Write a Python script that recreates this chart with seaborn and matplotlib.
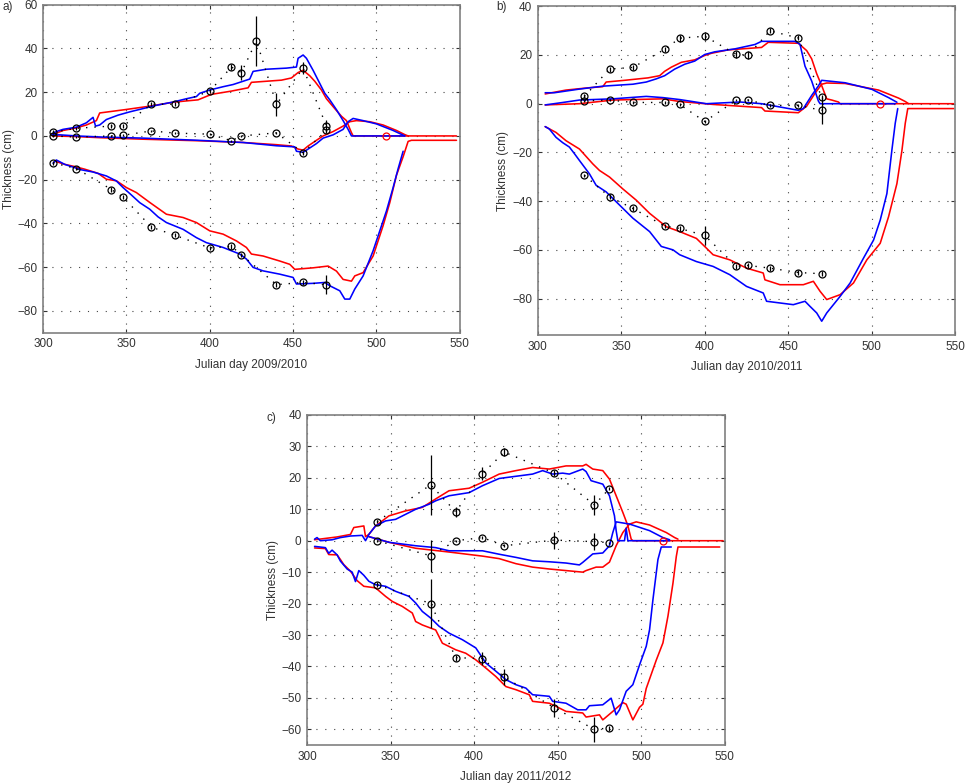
import numpy as np
import pandas as pd
import matplotlib
matplotlib.use("Agg")
import matplotlib.pyplot as plt
import seaborn as sns

# ---------- panel a) 2009/2010 : model curves (day, cm) ----------
a_blue_top = [(305.5, 1), (308, 2), (312, 3), (320, 4), (326, 6), (330, 8.5), (331.5, 4.5), (334, 5),
              (338, 7.5), (345, 9.5), (352, 11), (360, 12.5), (368, 14), (378, 15.5), (386, 17),
              (392, 18), (394, 19.5), (400, 21), (408, 22.5), (414, 23.5), (420, 25), (424, 26),
              (426, 29.5), (434, 30.5), (446, 31), (452, 31.5), (453, 35.5), (456, 37), (458, 35.5),
              (462, 30), (466, 24), (469, 19.5), (472, 16.5), (476, 12), (480, 7), (483, 3),
              (485, 0), (517, 0)]
a_red_top = [(305.5, 0.5), (312, 2.5), (319, 3.5), (326, 5), (332, 7), (334, 10.5), (349, 12),
             (363, 13.5), (379, 15.5), (393, 16.5), (401, 19), (413, 20.5), (423, 22), (425, 24.5),
             (443, 25.5), (449, 26.5), (453, 29), (456, 30), (460, 27.5), (463, 25), (467, 21),
             (470, 17), (475, 12.5), (479, 9), (482, 7), (485, 1.5), (486, 0), (548, 0)]
a_blue_mid = [(305.5, 0.5), (310, 0.5), (320, 0), (335, -0.5), (360, -1), (393, -2), (420, -3),
              (440, -4.5), (451, -5), (452, -7), (456, -7.5), (460, -5.5), (464, -3.5), (468, -1),
              (474, 0.5), (480, 3), (483, 6.5), (486, 8), (492, 7), (500, 5.5), (510, 2.5), (517, 0)]
a_red_mid = [(305.5, 0), (320, -0.3), (334, -0.8), (360, -1.5), (393, -2.2), (420, -3), (440, -4),
             (449, -4.6), (453, -6), (456, -6.5), (459, -4.6), (464, -2), (468, 0), (474, 2),
             (480, 4.5), (484, 6.5), (488, 7), (496, 6.5), (504, 5), (512, 2.5), (517, 0.6), (519, 0)]
a_blue_bot = [(306, -12.5), (308, -11), (313, -13), (319, -14.5), (323, -15.5), (330, -16.5),
              (338, -18.3), (344, -20.6), (348, -23.6), (353, -27), (358, -30.5), (364, -33.5),
              (369, -37), (374, -39.6), (384, -42.7), (392, -46.5), (398, -48.8), (408, -51),
              (418, -54), (422, -56.3), (426, -60.1), (432, -61.7), (442, -63.2), (450, -64.7),
              (452, -67.7), (462, -67.4), (469, -67), (472, -68.5), (478, -70.8), (481, -74.6),
              (484, -74.6), (487, -70), (492, -64), (498, -52.5), (502, -43.4), (506, -34.3),
              (510, -23.6), (513, -15), (516, -7)]
a_red_bot = [(307, -11.5), (313, -13), (319, -14), (325, -15.2), (333, -17.1), (338, -19.8),
             (344, -20.5), (350, -23.6), (356, -25.9), (364, -30.4), (374, -35.8), (384, -37.3),
             (392, -39.6), (400, -43.4), (408, -44.9), (416, -48), (422, -51), (425, -54),
             (432, -54.9), (442, -57.2), (448, -58.7), (451, -61), (462, -60.3), (471, -59.5),
             (476, -61.8), (480, -65.6), (485, -66.4), (487, -64), (492, -62.5), (498, -54.9),
             (504, -41), (508, -30.5), (512, -18), (516, -9.5), (519, -2.5), (521, -2), (548, -2)]

# panel a) observations
a_obs_day = [306, 320, 341, 348, 365, 379, 400, 413, 419, 428, 440, 456, 470]
a_obs_top = [1.7, 3.5, 4.5, 4.5, 14.5, 14.5, 20.5, 31.5, 29, 43.5, 14.5, 31, 4.5]
a_err_top = [0.8, 0.8, 0.8, 0.8, 0.8, 0.8, 1, 1.5, 3.5, 11.5, 5.3, 2.8, 2.6]
a_obs_mid = [0, -0.5, 0, 0.3, 2.3, 1.3, 0.8, -2.2, 0, np.nan, 1.4, -7.7, 2.5]
a_err_mid = [0.5, 0.5, 0.5, 0.5, 0.5, 0.5, 0.5, 0.5, 0.5, np.nan, 0.5, 0.8, 1]
a_obs_bot = [-12.3, -14.9, -24.5, -28, -41.7, -45.4, -51.2, -50.5, -54.3, np.nan, -68, -67, -68]
a_err_bot = [1, 0.8, 1, 1, 1, 1, 1, 1, 1, np.nan, 1, 1, 4.2]
a_red_obs = (506, 0)

# ---------- panel b) 2010/2011 ----------
b_blue_top = [(304.5, 4.5), (310, 4.5), (315, 5), (325, 6), (339, 7.2), (350, 7.7), (357, 8),
              (365, 8.9), (371, 10.2), (376, 11.5), (382, 14.2), (388, 16.2), (394, 17.5),
              (400, 20.2), (406, 21.3), (418, 22.5), (430, 24.3), (434, 25.6), (454, 25.6),
              (457, 24.4), (460, 15.4), (464, 9.3), (466, 5.2), (468, 1.1), (469, 0), (514, 0)]
b_red_top = [(304.5, 4), (317, 5.6), (330, 6.5), (339, 7), (341, 8.9), (352, 9.6), (366, 10.6),
             (373, 11.5), (376, 13.3), (380, 15), (386, 17), (394, 18), (400, 19.8), (404, 20.7),
             (414, 22.1), (434, 23.1), (438, 25.2), (456, 24.8), (461, 21.8), (464, 18.4),
             (467, 12.3), (470, 7.4), (473, 2), (476, 1.5), (480, 0.7), (481, 0), (549, 0)]
b_blue_mid = [(304.5, -0.5), (315, 0.5), (325, 1.5), (345, 2), (365, 3), (375, 2.5), (385, 1.7),
              (401, 0), (421, 0.7), (434, 0), (456, -2.7), (459, -2), (464, 3.4), (468, 7.3),
              (470, 9.6), (484, 8.6), (500, 5.9), (510, 2.5), (515, 0.6)]
b_red_mid = [(304.5, -0.5), (325, 0), (345, 1.5), (375, 2), (385, 0.9), (405, -0.3), (434, -1.6),
             (436, -3), (456, -3.7), (461, -1), (466, 4.3), (470, 8), (473, 8.5), (484, 8.3),
             (504, 5.6), (516, 2.3), (520, 0.9), (522, 0)]
b_blue_bot = [(304.5, -9.4), (307, -10.4), (311, -13.8), (315, -16), (319, -17.8), (322, -20.5),
              (325, -23.3), (331, -28.8), (335, -33.5), (341, -36.2), (349, -41.6), (357, -47),
              (367, -52.5), (374, -58.6), (381, -60), (385, -62), (395, -64.8), (405, -66.8),
              (415, -70.2), (425, -75), (435, -77.7), (437, -81.1), (445, -81.8), (453, -82.5),
              (460, -81.1), (463, -83.2), (467, -85.9), (470, -89.3), (473, -85.9), (481, -79.1),
              (487, -73.6), (495, -63.4), (501, -56), (505, -47.8), (509, -36.9), (512, -19),
              (514, -8), (515.5, -2)]
b_red_bot = [(304.5, -9.4), (311, -11.8), (317, -15.2), (325, -18.6), (333, -24.7), (337, -27.4),
             (343, -30.1), (351, -35), (359, -39.6), (367, -45), (377, -50.5), (385, -52.5),
             (395, -55.3), (401, -59.3), (405, -62), (415, -64.1), (425, -67.5), (435, -69.5),
             (436, -72.3), (445, -74.3), (459, -74.3), (465, -72.9), (469, -77), (473, -80.4),
             (481, -78.4), (489, -73.6), (497, -64.1), (505, -57.3), (510, -46.4), (515, -32.8),
             (518, -19.2), (520, -8), (521.5, -2), (549, -2)]

b_obs_day = [328, 343, 357, 376, 385, 400, 419, 426, 439, 456, 470]
b_obs_top = [3, 14.2, 14.9, 22.3, 26.9, 27.7, 20.2, 20, 29.9, 27, 2.6]
b_err_top = [0.8, 1, 1, 1, 1.5, 1.5, 1.5, 1.5, 1, 1, 1]
b_obs_mid = [1.2, 1.5, 0.5, 0.5, -0.3, -7.3, 1.5, 1.5, -0.7, -0.7, -2.7]
b_err_mid = [0.5, 0.5, 0.5, 0.5, 0.5, 0.8, 0.5, 0.5, 0.5, 0.5, 5.5]
b_obs_bot = [-29.4, -38.2, -43, -50.2, -51.2, -54.1, -66.8, -66.4, -67.5, -69.3, -69.8]
b_err_bot = [0.5, 1, 1, 1, 1, 3.7, 1, 1, 1, 1, 1]
b_red_obs = (505, 0)

# ---------- panel c) 2011/2012 ----------
c_blue_top = [(304.5, 0.5), (306, 1), (308, 0), (315, 0.3), (320, 1), (326, 1.5), (333, 1.7),
              (335, 0), (337, 2), (341, 4.7), (347, 6.3), (353, 6.8), (359, 8.4), (365, 10),
              (373, 11.6), (377, 12.7), (385, 14.3), (397, 15.3), (405, 17.5), (415, 19.8),
              (425, 20.5), (435, 21.2), (441, 22.3), (447, 21.2), (453, 21.5), (457, 21.2),
              (465, 22.8), (467, 22), (470, 19.1), (477, 18), (481, 14.3), (484, 7.9), (485, 3.2),
              (486, 0), (490, 0), (491, 4), (492, 0), (517, 0)]
c_red_top = [(304.5, 0.3), (318, 1.2), (326, 2), (328, 4.2), (334, 4.7), (335, 1.3), (337, 2),
             (341, 4.7), (349, 7.9), (359, 9.5), (369, 10.6), (377, 13.3), (385, 15.9), (397, 16.7),
             (405, 18.6), (415, 21.2), (425, 22.3), (435, 23.3), (445, 22.8), (455, 23.8),
             (465, 23.8), (467, 24.3), (471, 22.8), (477, 22.3), (481, 19.6), (485, 14.3),
             (489, 9), (492, 4.8), (494, 0.5), (495, 0), (549, 0)]
c_blue_mid = [(337, 1.3), (349, -0.5), (365, -1.6), (377, -2.2), (385, -3.2), (405, -3.2),
              (415, -4.3), (425, -5.3), (435, -6.4), (445, -6.7), (455, -7.1), (463, -7.7),
              (465, -6.9), (471, -4.2), (477, -3.9), (481, -1.6), (483, 2.6), (485, 6), (493, 5.3),
              (505, 3.2), (513, 1), (517, 0.3)]
c_red_mid = [(337, 1.3), (349, -0.5), (365, -2.4), (385, -3.6), (405, -4.9), (415, -5.7),
             (425, -7.3), (435, -8.4), (445, -9), (455, -9.5), (465, -10), (467, -9.5), (473, -8.4),
             (477, -8.4), (481, -6.8), (485, -1.6), (489, 2.6), (493, 5.3), (497, 6), (505, 5),
             (515, 2.6), (520, 1), (522, 0.5)]
c_blue_bot = [(304.5, -1.8), (311, -2.2), (313, -4), (315, -3), (318, -4.5), (320, -6.5),
              (324, -9), (327, -10), (329, -13), (331, -9.5), (334, -11), (337, -12.9), (341, -14),
              (347, -14.5), (353, -16.1), (361, -17.7), (365, -19.8), (369, -22.5), (374, -24.6),
              (379, -27.2), (385, -29.4), (393, -31.5), (401, -34.1), (407, -38.9), (413, -41.5),
              (419, -44.2), (425, -45.8), (431, -46.9), (435, -49), (445, -49.5), (447, -51.1),
              (455, -51.7), (462, -53.8), (467, -53.8), (469, -52.5), (477, -52.2), (482, -50.1),
              (485, -55.4), (487, -53.8), (491, -47.9), (495, -45.8), (499, -39.5), (503, -33.6),
              (505, -28.3), (507, -18.8), (510, -6), (512, -2), (518, -2)]
c_red_bot = [(304.5, -2.3), (311, -2.5), (313, -4.4), (318, -4.5), (320, -6), (322, -7.6),
             (326, -9.7), (330, -12.7), (334, -14.5), (341, -15), (347, -17.7), (351, -19.3),
             (357, -20.9), (363, -23), (365, -25.7), (369, -26.8), (377, -28.4), (381, -32.6),
             (389, -34.7), (395, -35.8), (401, -37.9), (407, -40.5), (413, -43.2), (419, -46.4),
             (425, -47.4), (433, -49), (435, -51.1), (445, -51.7), (449, -52.7), (455, -54.3),
             (465, -54.8), (467, -56.1), (475, -55.4), (477, -57), (483, -54.3), (489, -51.5),
             (491, -52), (495, -57), (499, -53), (501, -52), (503, -47), (505, -44), (509, -38),
             (513, -32.5), (516, -24), (519, -13.5), (521, -5), (522, -2), (547, -2)]

c_obs_day = [342, 374, 389, 405, 418, 448, 472, 481]
c_obs_top = [6.1, 17.8, 9.2, 21.3, 28.2, 21.5, 11.4, 16.6]
c_err_top = [0.5, 9.6, 1.5, 2, 1.2, 1, 3.1, 0.5]
c_obs_mid = [0, -4.8, 0, 1, -1.6, 0.2, -0.3, -0.6]
c_err_mid = [0.3, 5, 0.3, 0.5, 0.5, 2.7, 2.6, 0.3]
c_obs_bot = [-14, -20, -37.2, -37.5, -43.3, -53.2, -60, -59.6]
c_err_bot = [0.8, 7.7, 1, 2, 2.5, 3, 4, 0.8]
c_red_obs = (513, 0)

# ---------- style ----------
sns.set_style("ticks")
plt.rcParams["font.family"] = ["Liberation Sans", "DejaVu Sans"]
TXT = "#333333"


def draw_panel(ax, model, obs, red_obs, ylim, yticks, xlabel):
    # model curves, red underneath blue
    for pts, color in model:
        df = pd.DataFrame(pts, columns=["day", "cm"])
        sns.lineplot(data=df, x="day", y="cm", color=color, lw=1.15,
                     sort=False, estimator=None, ax=ax)
    # observations: dotted line + open circles + error bars
    day = obs[0]
    for vals, errs in obs[1:]:
        df = pd.DataFrame({"day": day, "cm": vals, "err": errs}).dropna()
        ax.errorbar(df["day"], df["cm"], yerr=df["err"], fmt="none",
                    ecolor="black", elinewidth=0.9, capsize=0, zorder=4)
        sns.lineplot(data=df, x="day", y="cm", color="black", lw=1.0,
                     linestyle=(0, (1, 5)), marker="o", markersize=5,
                     markerfacecolor="none", markeredgecolor="black",
                     markeredgewidth=0.9, sort=False, estimator=None, ax=ax, zorder=5)
    ax.plot([red_obs[0]], [red_obs[1]], "o", ms=5, mfc="none", mec="red", mew=0.9, zorder=5)

    ax.set_xlim(300, 550)
    ax.set_ylim(*ylim)
    ax.set_xticks(range(300, 551, 50))
    ax.set_yticks(yticks)
    ax.set_yticklabels([str(t).replace("-", "\u2212") for t in yticks])
    ax.grid(True, ls=(0, (1, 7)), color="#444444", lw=0.8)
    ax.tick_params(direction="in", length=3, labelsize=8.5, colors=TXT,
                   top=True, right=True, pad=4)
    for sp in ax.spines.values():
        sp.set_color("#808080")
        sp.set_linewidth(1.2)
    ax.set_xlabel(xlabel, fontsize=8.5, color=TXT, labelpad=6)
    ax.set_ylabel("Thickness (cm)", fontsize=8.5, color=TXT, labelpad=2)


fig = plt.figure(figsize=(9.67, 7.83), dpi=100)
ax_a = fig.add_axes([0.0445, 0.575, 0.431, 0.419])
ax_b = fig.add_axes([0.556, 0.572, 0.432, 0.420])
ax_c = fig.add_axes([0.3175, 0.0485, 0.432, 0.4215])

draw_panel(ax_a,
           [(a_red_top, "red"), (a_red_mid, "red"), (a_red_bot, "red"),
            (a_blue_top, "blue"), (a_blue_mid, "blue"), (a_blue_bot, "blue")],
           [a_obs_day, (a_obs_top, a_err_top), (a_obs_mid, a_err_mid), (a_obs_bot, a_err_bot)],
           a_red_obs, (-90, 60), list(range(-80, 61, 20)), "Julian day 2009/2010")
draw_panel(ax_b,
           [(b_red_top, "red"), (b_red_mid, "red"), (b_red_bot, "red"),
            (b_blue_top, "blue"), (b_blue_mid, "blue"), (b_blue_bot, "blue")],
           [b_obs_day, (b_obs_top, b_err_top), (b_obs_mid, b_err_mid), (b_obs_bot, b_err_bot)],
           b_red_obs, (-95, 40), list(range(-80, 41, 20)), "Julian day 2010/2011")
draw_panel(ax_c,
           [(c_red_top, "red"), (c_red_mid, "red"), (c_red_bot, "red"),
            (c_blue_top, "blue"), (c_blue_mid, "blue"), (c_blue_bot, "blue")],
           [c_obs_day, (c_obs_top, c_err_top), (c_obs_mid, c_err_mid), (c_obs_bot, c_err_bot)],
           c_red_obs, (-65, 40), list(range(-60, 41, 10)), "Julian day 2011/2012")

fig.text(0.003, 0.991, "a)", fontsize=8.5, color=TXT, va="center")
fig.text(0.513, 0.991, "b)", fontsize=8.5, color=TXT, va="center")
fig.text(0.276, 0.466, "c)", fontsize=8.5, color=TXT, va="center")

fig.savefig("out.png", dpi=100)
